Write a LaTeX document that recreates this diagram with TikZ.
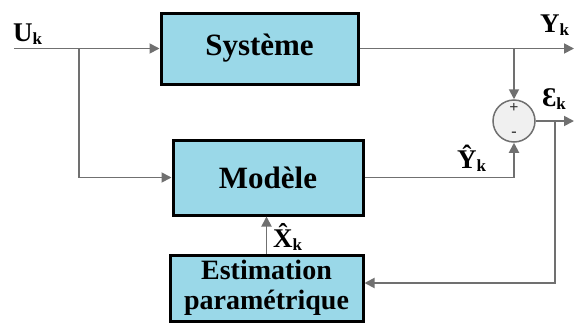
\documentclass[tikz,border=0pt]{standalone}
\usepackage{fontspec}
\setmainfont{Liberation Serif}
\usetikzlibrary{arrows.meta,calc}

\definecolor{boxblue}{RGB}{154,216,232}
\definecolor{wiregray}{RGB}{112,112,112}
\newcommand{\subk}{\raisebox{-3pt}{\fontsize{17}{17}\selectfont k}}

\begin{document}
\begin{tikzpicture}[x=1pt,y=-1pt,
    blk/.style={draw=black,line width=3pt,fill=boxblue,inner sep=0pt,font=\bfseries\fontsize{31}{31}\selectfont},
    sumc/.style={circle,draw=wiregray,line width=1.5pt,fill=gray!12,minimum size=42pt,inner sep=0pt},
    sig/.style={draw=wiregray,line width=1.8pt},
    arr/.style={sig,-{Triangle[length=10pt,width=10pt]}},
    sgn/.style={inner sep=0pt,text=black!80,font=\bfseries\fontsize{16}{16}\selectfont},
    lbl/.style={anchor=base west,inner sep=0pt,font=\bfseries\fontsize{27}{27}\selectfont}]
    \useasboundingbox (0,0) rectangle (574,322);

    % blocs
    \node[blk,minimum width=197pt,minimum height=71pt] (sys) at (259.5,48.5) {Système};
    \node[blk,minimum width=190pt,minimum height=75pt] (mod) at (268,177.5) {Modèle};
    \node[blk,minimum width=193pt,minimum height=66pt,font=\bfseries\fontsize{28}{30}\selectfont,align=center] (est) at (266.5,288) {Estimation\\paramétrique};
    \node[sumc] (sum) at (514,121) {};
    \node[sgn] (plus) at (514,108) {+};
    \node[sgn] (minus) at (514,134) {-};

    % points de connexion
    \coordinate (uin) at (14,48.5);
    \coordinate (ubr) at (79,48.5);
    \coordinate (yout) at (574,48.5);
    \coordinate (ybr) at (514,48.5);
    \coordinate (eout) at (574,121);
    \coordinate (ebr) at (555,121);
    \coordinate (eback) at (555,283);

    % signaux
    \draw[arr] (uin) -- (sys.west);
    \draw[arr] (ubr) |- (mod.west);
    \draw[arr] (sys.east) -- (yout);
    \draw[arr] (ybr) -- (sum.north);
    \draw[arr] (mod.east) -| (sum.south);
    \draw[arr] (sum.east) -- (eout);
    \draw[arr] (ebr) -- (eback) -- (est.east |- eback);
    \draw[arr] (est.north) -- (est.north |- mod.south);

    % etiquettes
    \node[lbl] (ulbl) at (13,41) {U\subk};
    \node[lbl] (ylbl) at (540,32) {Y\subk};
    \node[lbl] (elbl) at (542,106) {Ɛ\subk};
    \node[lbl] (yhat) at (457,168) {Ŷ\subk};
    \node[lbl] (xhat) at (273,247) {\^{X}\subk};
\end{tikzpicture}
\end{document}
